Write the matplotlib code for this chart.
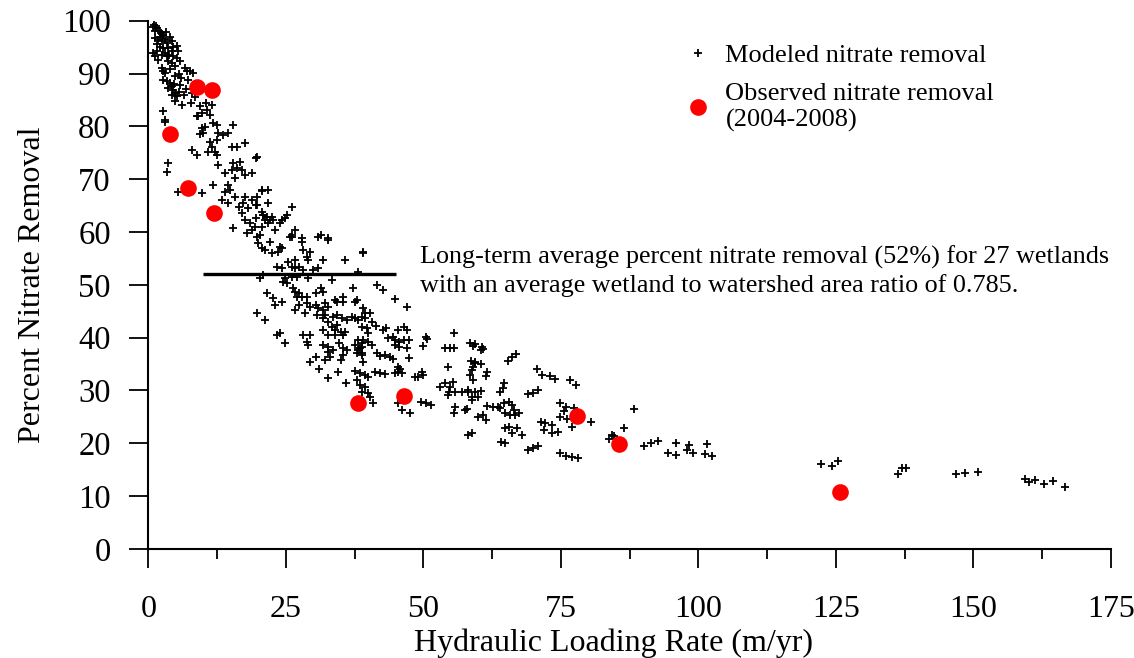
import numpy as np
import matplotlib.pyplot as plt

plt.rcParams['font.family'] = ['Liberation Serif', 'DejaVu Serif']

# modeled removal (hydraulic loading rate m/yr, percent removal)
modeled_points = [
    (1.0, 99.2), (1.6, 98.6), (2.0, 98.0), (1.2, 98.0), (2.3, 97.6), (2.7, 97.3), (1.8, 96.3),
    (2.5, 96.2), (3.0, 96.5), (3.9, 96.9), (4.3, 96.2), (3.4, 95.8), (2.7, 94.8), (3.6, 94.8),
    (4.5, 95.0), (5.2, 95.2), (5.4, 94.3), (4.3, 94.3), (1.2, 93.3), (1.8, 92.6), (3.0, 93.9),
    (3.4, 93.3), (4.5, 93.3), (5.2, 92.9), (5.8, 92.4), (3.6, 92.4), (4.3, 92.0), (2.5, 91.0),
    (2.7, 90.5), (3.0, 90.1), (4.9, 91.4), (6.7, 91.0), (7.1, 90.5), (7.6, 90.5), (8.2, 90.1),
    (4.9, 89.5), (2.7, 88.8), (3.4, 88.6), (3.9, 88.2), (4.3, 87.6), (3.6, 87.3), (4.5, 86.9),
    (4.9, 86.3), (5.2, 85.7), (4.3, 85.9), (4.9, 84.8), (5.8, 87.8), (6.4, 85.9), (7.2, 88.8),
    (8.0, 86.3), (9.4, 83.9), (10.4, 84.4), (11.6, 84.0), (10.7, 83.1), (9.8, 82.5), (9.1, 82.0),
    (8.9, 82.0), (11.2, 82.1), (11.8, 80.6), (15.4, 80.3), (2.7, 82.9), (3.0, 81.2),
    (0.8, 98.8), (1.4, 99.0), (2.1, 97.0), (1.5, 95.5), (2.2, 95.0), (0.9, 93.8), (1.5, 94.2),
    (3.8, 93.6), (4.0, 90.8), (5.5, 90.0), (6.0, 89.2), (5.6, 86.5), (6.9, 87.0), (7.8, 84.5),
    (8.5, 85.5), (6.2, 84.0), (1.3, 96.8), (3.2, 97.8), (2.4, 93.5), (4.7, 88.0),
    (3.1, 80.8), (9.8, 79.7), (10.3, 79.9), (12.5, 80.3), (9.4, 78.5), (10.0, 78.7), (12.7, 78.7),
    (13.6, 78.3), (14.4, 78.7), (11.3, 77.0), (12.5, 77.4), (11.6, 76.1), (10.9, 75.1), (12.1, 75.1),
    (12.5, 74.6), (8.0, 75.5), (8.9, 74.6), (15.3, 76.1), (16.1, 76.1), (17.6, 76.8), (19.5, 74.0),
    (12.7, 72.7), (15.4, 73.1), (16.7, 73.3), (15.3, 71.7), (16.1, 72.1), (17.0, 71.7), (14.0, 71.2),
    (15.8, 70.2), (17.6, 70.8), (18.9, 71.2), (3.6, 73.1), (3.4, 71.4), (11.8, 68.9), (14.4, 68.9),
    (14.0, 67.6), (14.9, 68.0), (5.4, 67.6), (9.8, 67.4), (15.8, 66.6), (17.6, 66.6), (18.9, 66.1),
    (17.3, 65.5), (16.4, 64.7), (18.2, 64.5), (19.5, 65.1), (20.7, 68.0), (13.4, 66.1), (14.4, 65.5),
    (17.0, 63.6), (17.6, 62.3), (18.5, 61.7), (19.5, 62.7), (20.9, 63.2), (18.9, 60.4), (18.0, 59.8),
    (15.4, 60.8), (20.7, 61.0), (20.3, 59.4),
    (19.8, 74.2), (20.7, 67.8), (21.8, 68.0), (19.8, 66.6), (19.8, 65.1), (21.8, 65.5), (26.1, 64.7),
    (20.7, 63.8), (20.9, 63.2), (21.6, 62.8), (22.5, 62.8), (21.3, 62.3), (22.2, 62.3), (22.7, 62.3),
    (21.8, 61.7), (24.3, 62.3), (24.9, 62.7), (25.2, 63.2), (24.0, 61.7), (19.4, 61.0), (23.1, 60.4),
    (26.7, 60.4), (26.1, 59.4), (25.8, 59.1), (31.3, 59.4), (32.6, 58.9), (28.0, 58.9),
    (19.8, 59.1), (22.1, 58.1), (23.9, 57.2), (24.3, 57.0), (23.6, 56.2), (22.5, 56.0), (20.7, 57.0),
    (19.9, 57.9), (21.3, 56.6), (26.1, 59.1), (28.0, 58.1), (30.9, 59.1), (32.6, 58.5), (28.2, 56.6),
    (29.4, 56.2), (28.9, 55.3), (29.1, 54.7), (26.7, 54.7), (25.4, 54.3), (31.8, 54.7), (35.8, 54.7),
    (39.1, 56.2), (23.4, 53.4), (24.3, 53.2), (26.1, 53.4), (26.7, 53.2), (27.3, 53.4), (28.2, 52.8),
    (30.0, 52.8), (30.9, 53.2), (20.3, 51.3), (20.9, 51.9), (24.9, 51.3), (26.1, 51.5), (27.1, 51.5),
    (29.1, 51.3), (33.4, 50.9), (24.5, 50.5), (25.2, 50.4), (26.3, 49.4), (26.7, 48.6), (27.3, 48.5),
    (27.1, 47.7), (28.0, 47.7), (31.3, 49.4), (31.7, 48.6), (30.4, 48.5), (28.9, 47.7), (21.6, 48.5),
    (22.7, 47.5), (23.1, 46.2), (24.3, 46.8), (26.7, 45.2), (27.3, 46.2), (28.9, 46.6), (29.4, 45.8),
    (30.4, 46.2), (30.9, 45.6), (32.1, 46.6), (32.6, 45.8), (34.0, 47.1), (34.3, 46.8), (35.4, 47.7),
    (35.4, 46.8), (37.2, 49.4), (37.6, 46.8), (39.1, 45.6), (19.8, 44.7), (21.2, 43.3), (28.5, 44.7),
    (30.7, 44.3), (31.7, 45.2), (32.2, 44.3), (31.7, 43.7), (32.6, 43.0), (33.6, 43.9), (34.3, 44.3),
    (35.2, 43.7), (36.2, 43.3), (34.3, 42.4), (31.8, 41.5), (37.0, 43.9), (37.6, 43.7), (38.9, 43.9),
    (39.4, 44.7), (33.4, 42.0), (34.0, 41.5), (35.0, 41.1), (35.4, 40.5), (35.8, 41.1), (34.0, 40.5),
    (32.7, 40.5), (23.4, 40.5), (24.0, 40.9), (24.9, 39.0), (28.2, 40.5), (29.4, 40.5), (28.9, 39.2),
    (29.1, 38.6), (31.8, 38.6), (32.7, 38.2), (32.6, 37.3), (33.6, 37.7), (34.6, 39.0), (35.4, 38.0),
    (36.2, 37.7), (37.6, 38.6), (38.1, 37.7), (38.9, 38.2), (39.1, 39.6), (30.4, 36.3), (29.4, 35.4),
    (32.1, 35.8), (33.1, 36.3), (35.0, 35.8), (35.4, 36.7), (38.9, 36.7), (39.1, 35.4),
    (32.6, 32.4), (34.4, 33.5), (36.0, 31.5), (31.0, 34.0),
    (39.1, 56.0), (38.1, 52.4), (41.6, 50.0), (42.6, 49.0), (38.0, 47.1), (44.9, 47.3), (47.1, 45.8),
    (40.3, 44.7), (39.4, 43.7), (40.7, 43.0), (38.9, 42.0), (39.8, 41.8), (42.6, 41.5), (43.2, 41.8),
    (41.4, 42.2), (40.0, 40.9), (38.2, 43.3), (45.3, 41.5), (46.4, 42.0), (47.1, 41.5), (43.6, 39.9),
    (44.4, 40.1), (44.9, 39.6), (45.5, 39.2), (46.4, 39.6), (47.3, 39.6), (47.1, 38.0), (45.5, 38.2),
    (44.9, 38.6), (38.2, 39.6), (38.9, 39.0), (40.0, 39.2), (40.7, 38.6), (38.5, 38.0), (38.0, 37.1),
    (38.9, 37.1), (41.6, 37.1), (42.1, 36.5), (43.1, 36.7), (44.0, 36.3), (44.5, 36.0), (47.3, 36.2),
    (50.4, 40.1), (50.7, 39.7), (50.0, 38.4), (55.5, 40.9), (54.0, 38.0), (54.9, 38.0), (55.6, 38.0),
    (54.4, 34.4), (59.1, 38.4), (59.3, 35.4), (59.1, 34.4), (45.3, 34.4), (45.8, 34.1), (45.4, 33.5),
    (44.9, 33.3), (46.2, 33.3), (49.8, 33.5), (50.0, 32.9), (49.1, 32.6), (48.5, 32.6), (37.6, 33.7),
    (38.5, 33.3), (39.4, 32.9), (40.0, 32.6), (41.2, 33.5), (42.1, 33.3), (43.1, 33.1), (38.0, 32.0),
    (38.5, 31.0), (39.4, 30.7), (38.9, 29.7), (40.0, 29.5), (40.3, 28.8), (40.9, 27.6), (53.1, 30.7),
    (54.0, 31.4), (54.9, 30.7), (55.3, 31.6), (54.6, 29.7), (55.8, 29.7), (54.4, 29.2), (57.1, 29.7),
    (58.2, 30.1), (58.9, 28.8), (49.5, 27.8), (50.4, 27.6), (51.3, 27.3), (46.2, 26.3), (47.6, 25.7),
    (45.3, 27.6), (55.8, 26.9), (55.5, 25.7), (57.6, 26.3),
    (58.5, 39.0), (59.4, 38.8), (60.7, 38.2), (60.9, 37.9), (60.4, 37.7), (65.3, 35.6), (66.2, 36.3),
    (66.9, 36.9), (58.7, 35.6), (59.4, 35.2), (60.5, 35.0), (58.9, 33.9), (58.5, 32.9), (59.0, 32.0),
    (61.6, 33.5), (61.4, 32.7), (70.7, 34.1), (71.6, 32.9), (73.1, 32.7), (74.0, 32.2), (76.6, 32.0),
    (77.8, 31.0), (64.6, 31.4), (64.4, 30.5), (64.0, 29.7), (58.2, 29.7), (59.4, 29.7), (60.4, 29.9),
    (58.9, 28.2), (60.0, 28.8), (69.1, 29.3), (70.0, 29.5), (70.9, 30.1), (63.6, 26.9), (64.6, 27.6),
    (65.5, 27.8), (66.2, 27.3), (66.4, 26.3), (67.3, 25.7), (64.9, 25.7), (65.8, 25.4), (66.7, 25.4),
    (64.0, 26.7), (61.6, 27.1), (62.6, 26.9), (58.0, 26.5), (60.0, 25.0), (60.9, 25.4), (61.3, 24.4),
    (74.9, 27.6), (75.9, 26.9), (75.5, 26.1), (77.3, 26.7), (74.9, 25.0), (76.2, 24.6), (71.3, 24.0),
    (72.2, 23.8), (73.4, 23.5), (72.0, 22.5), (73.3, 22.0), (74.4, 22.1), (77.1, 23.1), (80.4, 24.0),
    (64.9, 22.9), (65.5, 23.1), (67.1, 22.9), (66.2, 22.0), (68.0, 21.6), (58.9, 22.0), (58.2, 21.6),
    (64.2, 20.3), (64.8, 20.1), (69.1, 18.7), (70.0, 19.1), (70.9, 19.5), (74.9, 18.2), (75.9, 17.6),
    (77.1, 17.4), (78.2, 17.2), (86.4, 22.9),
    (88.3, 26.5), (83.7, 20.8), (84.2, 21.6), (84.6, 21.4), (90.1, 19.5), (91.3, 20.1), (92.6, 20.4),
    (95.9, 20.1), (94.4, 18.2), (96.0, 17.8), (98.2, 19.7), (97.9, 18.7), (99.0, 18.2), (101.5, 19.9),
    (101.2, 18.0), (102.4, 17.6), (122.2, 16.1), (124.2, 15.7), (125.3, 16.7), (136.2, 14.2),
    (137.0, 15.3), (137.7, 15.3), (146.8, 14.2), (148.4, 14.4), (150.8, 14.6), (159.4, 13.2),
    (160.1, 12.7), (161.2, 13.1), (162.8, 12.3), (164.4, 12.9), (166.7, 11.7),
]

# observed removal 2004-2008
observed_hlr = [3.9, 7.2, 8.9, 11.6, 11.9, 38.1, 46.4, 78.0, 85.5, 125.7]
observed_removal = [78.5, 68.3, 87.4, 86.9, 63.6, 27.7, 29.0, 25.1, 19.9, 10.8]

# long-term average over 27 wetlands
avg_removal = 52
avg_span = (10, 45)

modeled = np.array(modeled_points)

fig = plt.figure(figsize=(11.34, 6.58), dpi=100)
ax = fig.add_axes([0.1308, 0.1657, 0.8489, 0.8028])

ax.plot(modeled[:, 0], modeled[:, 1], linestyle='none', marker='+', color='black',
        markersize=6, markeredgewidth=1.3, label='Modeled nitrate removal')
ax.plot(observed_hlr, observed_removal, linestyle='none', marker='o', color='red',
        markeredgecolor='none', markersize=12, label='Observed nitrate removal\n(2004-2008)')
ax.hlines(avg_removal, avg_span[0], avg_span[1], color='black', linewidth=2.4)

ax.text(49.4, 52.6, 'Long-term average percent nitrate removal (52%) for 27 wetlands\n'
        'with an average wetland to watershed area ratio of 0.785.',
        fontsize=18.8, va='center', ha='left', linespacing=1.25)

ax.legend(loc='upper left', bbox_to_anchor=(0.557, 0.957), frameon=False, fontsize=19,
          handlelength=1.0, handletextpad=0.55, labelspacing=0.62, borderpad=0,
          borderaxespad=0)

ax.set_xlim(0, 175)
ax.set_ylim(0, 100)
ax.set_xticks(np.arange(0, 176, 25))
ax.set_xticks(np.arange(12.5, 175, 25), minor=True)
ax.set_yticks(np.arange(0, 101, 10))

for side in ['top', 'right']:
    ax.spines[side].set_visible(False)
for side in ['left', 'bottom']:
    ax.spines[side].set_linewidth(1.5)

ax.tick_params(axis='y', which='major', direction='out', length=14, width=1.3,
               pad=13, labelsize=23.5)
ax.tick_params(axis='x', which='major', direction='out', length=14, width=1.3,
               pad=19, labelsize=23)
ax.tick_params(axis='x', which='minor', direction='out', length=7, width=1.3)

ax.set_xlabel('Hydraulic Loading Rate (m/yr)', fontsize=23)
ax.xaxis.set_label_coords(0.483, -0.151)
ax.set_ylabel('Percent Nitrate Removal', fontsize=23, labelpad=11)

fig.savefig('out.png', dpi=100)
